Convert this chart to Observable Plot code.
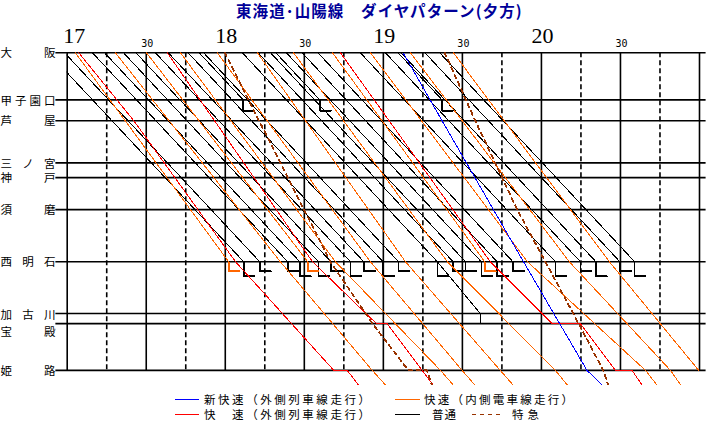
<!DOCTYPE html>
<html lang="ja">
<head>
<meta charset="utf-8">
<script src="https://cdn.jsdelivr.net/npm/d3@7"></script>
<script src="https://cdn.jsdelivr.net/npm/@observablehq/plot@0.6"></script>
<style>
html,body{margin:0;padding:0;background:#fff;}
#wrap{width:706px;height:425px;overflow:hidden;font-family:"Noto Sans CJK JP","Noto Sans",sans-serif;}
#title{height:20px;padding-left:236px;line-height:20px;font-size:15.5px;font-weight:bold;color:#000099;white-space:nowrap;letter-spacing:1.1px;}
#chart{height:365px;}
#legend{display:block;}
</style>
</head>
<body>
<div id="wrap">
<div id="title">東海道･山陽線　ダイヤパターン(夕方)</div>
<div id="chart"></div>
<svg id="legend" width="706" height="40"></svg>
</div>
<script>
// ---- stations (distance along the diagram, km-like units)
const stations  = ["大阪","甲子園口","芦屋","三ノ宮","神戸","須磨","西明石","加古川","宝殿","姫路"];
const stationKm = [0, 13.1, 18.9, 30.6, 34.7, 43.6, 58.1, 72.5, 75.3, 88.3];
const beyondName = "以遠";      // continuation west of 姫路 (cut by the picture edge)
const beyondKm = 92.5;

// ---- time axis (minutes after 17:00)
const hourTicks  = [0, 60, 120, 180];
const hourLabels = ["17", "18", "19", "20"];
const halfTicks  = [30, 90, 150, 210];
const halfLabels = ["30", "30", "30", "30"];
const gridSolid  = [0, 30, 60, 90, 120, 150, 180, 210, 240];
const gridDashed = [15, 45, 75, 105, 135, 165, 195, 225];

// ---- trains: "station time station time ... [end-mark]"  (time = minutes after 17:00)
// end marks: L / S = turn-back into siding at 西明石 (long / short), K = siding at 甲子園口, D = drop at 加古川
const futsu = [
  "大阪 -7.1 西明石 67.0 L",
  "大阪 -1.0 西明石 73.1 S",
  "大阪 9.6 西明石 83.7 S",
  "大阪 14.2 西明石 88.3 L",
  "大阪 21.4 西明石 95.4 L",
  "大阪 26.1 西明石 100.1 S",
  "大阪 33.5 西明石 107.5 L",
  "大阪 38.4 西明石 112.6 S",
  "大阪 45.9 西明石 119.9 L",
  "大阪 50.1 甲子園口 66.8 K",
  "大阪 51.8 西明石 125.8 S",
  "大阪 66.5 西明石 140.5 L",
  "大阪 72.5 西明石 146.5 S",
  "大阪 77.2 西明石 151.2 S",
  "大阪 79.2 甲子園口 95.9 K",
  "大阪 83.2 西明石 157.2 L",
  "大阪 89.2 西明石 163.2 L",
  "大阪 95.2 西明石 169.2 S",
  "大阪 111.3 西明石 185.3 L",
  "大阪 120.8 西明石 194.8 S",
  "大阪 125.6 甲子園口 142.3 K",
  "大阪 126.7 西明石 200.7 L",
  "大阪 135.8 西明石 209.8 S",
  "大阪 141.4 西明石 215.4 L",
  "西明石 140.5 加古川 156.8 D"
];
const kaisokuInner = [
  "大阪 3.1 西明石 61.3 S",
  "大阪 18.3 西明石 80.9 姫路 115.8 以遠 121.0",
  "大阪 30.1 西明石 91.3 S",
  "大阪 43.0 西明石 101.8 姫路 141.7 以遠 146.7",
  "大阪 57.0 西明石 115.1 姫路 149.9 以遠 154.9",
  "大阪 72.2 西明石 128.4 姫路 164.4 以遠 169.4",
  "大阪 85.9 西明石 144.3 姫路 185.3 以遠 190.0",
  "大阪 100.7 西明石 158.5 S",
  "大阪 115.1 西明石 174.7 姫路 219.5 以遠 224.0",
  "大阪 130.3 西明石 190.6 姫路 229.0 以遠 233.0",
  "大阪 146.6 西明石 205.8 姫路 239.7 以遠 244.0"
];
const kaisokuOuter = [
  "大阪 4.4 芦屋 25.3 西明石 63.9 姫路 101.2 姫路 106.3 以遠 110.7",
  "大阪 38.0 西明石 93.1 宝殿 117.4 宝殿 121.4 姫路 134.7 以遠 139.0",
  "大阪 103.7 西明石 160.6 宝殿 184.1 宝殿 194.8 姫路 208.1 姫路 214.4 以遠 218.3"
];
const shinKaisoku = [
  "大阪 127.5 芦屋 142.3 西明石 173.2 姫路 197.3 以遠 203.3"
];
const tokkyu = [
  "大阪 59.8 西明石 99.9 宝殿 115.9 姫路 129.5 姫路 136.6 以遠 138.5",
  "大阪 143.3 芦屋 154.9 須磨 170.8 西明石 181.5 加古川 192.1 姫路 203.5 以遠 205.4"
];

const typeColor = {
  "普通": "#000000",
  "快速内": "#ff6600",
  "快速外": "#ff0000",
  "新快速": "#0000ff",
  "特急": "#993300"
};

// ---- build tables
function kmOf(name) {
  return name === beyondName ? beyondKm : stationKm[stations.indexOf(name)];
}
function parse(list, type) {
  return list.map((s, i) => {
    const tok = s.trim().split(/\s+/);
    const pts = [];
    let end = null;
    for (let j = 0; j < tok.length; j += 2) {
      if (j === tok.length - 1) { end = tok[j]; break; }
      pts.push({station: tok[j], t: +tok[j + 1]});
    }
    return {id: type + i, type, pts, end};
  });
}
const trains = [
  ...parse(futsu, "普通"),
  ...parse(kaisokuInner, "快速内"),
  ...parse(kaisokuOuter, "快速外"),
  ...parse(shinKaisoku, "新快速"),
  ...parse(tokkyu, "特急")
];
const pathRows = trains.flatMap(tr => tr.pts.map(p => ({id: tr.id, type: tr.type, t: p.t, km: kmOf(p.station)})));

const dropOf = {L: 4.0, S: 2.6, K: 3.0};
const runMin = 4.2;
const noteRows = trains.filter(tr => tr.end).flatMap(tr => {
  const last = tr.pts[tr.pts.length - 1];
  const km = kmOf(last.station);
  if (tr.end === "D") {
    return [{id: tr.id, type: tr.type, t: last.t, km}, {id: tr.id, type: tr.type, t: last.t, km: kmOf("宝殿")}];
  }
  const d = dropOf[tr.end];
  return [
    {id: tr.id, type: tr.type, t: last.t, km},
    {id: tr.id, type: tr.type, t: last.t, km: km + d},
    {id: tr.id, type: tr.type, t: last.t + runMin, km: km + d}
  ];
});

const trainMarks = Object.keys(typeColor).flatMap(type => {
  const dashed = type === "特急";
  return [
    Plot.line(pathRows.filter(d => d.type === type), {
      x: "t", y: "km", z: "id", stroke: typeColor[type],
      strokeWidth: dashed ? 1.8 : 1, strokeDasharray: dashed ? "4,4" : null,
      clip: "frame"
    }),
    Plot.line(noteRows.filter(d => d.type === type), {
      x: "t", y: "km", z: "id", stroke: typeColor[type], strokeWidth: 1.6, clip: "frame"
    })
  ];
});

const lastKm = stationKm[stationKm.length - 1];
const chart = Plot.plot({
  width: 706,
  height: 365,
  marginLeft: 66.7,
  marginRight: 7,
  marginTop: 32.3,
  marginBottom: 0,
  x: {domain: [0, 240], range: [66.7, 699], axis: null},
  y: {domain: [0, beyondKm], range: [32.3, 365], axis: null},
  style: {background: "white", fontFamily: "'Noto Sans CJK JP', sans-serif", overflow: "hidden"},
  marks: [
    Plot.ruleY(stationKm, {x1: -4.3, x2: 242.5, stroke: "#000", strokeWidth: 1.6}),
    Plot.ruleX(gridSolid, {y1: 0, y2: lastKm, stroke: "#000", strokeWidth: 1.6}),
    Plot.ruleX(gridDashed, {y1: 0, y2: lastKm, stroke: "#000", strokeWidth: 1.6, strokeDasharray: "5,3"}),
    ...trainMarks,
    Plot.text(hourTicks.slice(0, 1), {x: d => d, text: (d, i) => hourLabels[i], frameAnchor: "top", lineAnchor: "bottom",
      dx: 7, dy: -10, fontSize: 22, fontFamily: "'Liberation Serif', serif", fill: "#000"}),
    Plot.text(hourTicks.slice(1), {x: d => d, text: (d, i) => hourLabels[i + 1], frameAnchor: "top", lineAnchor: "bottom",
      dx: 1, dy: -10, fontSize: 22, fontFamily: "'Liberation Serif', serif", fill: "#000"}),
    Plot.text(halfTicks, {x: d => d, text: (d, i) => halfLabels[i], frameAnchor: "top", lineAnchor: "bottom",
      dx: 1, dy: -6, fontSize: 10, fontFamily: "'DejaVu Sans Mono', monospace", fill: "#000"}),
    Plot.text(stations.filter(s => s !== "宝殿" && s !== "加古川"), {
      y: s => kmOf(s), text: s => s, frameAnchor: "left", textAnchor: "start", dx: -66.7, dy: 1,
      fontSize: 11.5, fill: "#000"}),
    Plot.text(["加古川"], {y: s => kmOf(s), text: s => s, frameAnchor: "left", textAnchor: "start", dx: -66.7, dy: 2,
      fontSize: 11.5, fill: "#000"}),
    Plot.text(["宝殿"], {y: s => kmOf(s), text: s => s, frameAnchor: "left", textAnchor: "start", dx: -66.7, dy: 9,
      fontSize: 11.5, fill: "#000"})
  ]
});
document.getElementById("chart").appendChild(chart);

// stretch station names across the label column
d3.select(chart).selectAll("text").each(function () {
  const t = this.textContent;
  if (stations.includes(t)) {
    d3.select(this).attr("textLength", 55).attr("lengthAdjust", "spacing");
  }
});
d3.select(chart).selectAll("g[aria-label=line] path").attr("shape-rendering", "crispEdges");

// ---- legend
const legendItems = [
  {type: "新快速", label: "新快速（外側列車線走行）", x: 175, row: 0, w: 24, tx: 204, tl: 166},
  {type: "快速内", label: "快速（内側電車線走行）", x: 395, row: 0, w: 25, tx: 424, tl: 149},
  {type: "快速外", label: "快　速（外側列車線走行）", x: 175, row: 1, w: 24, tx: 204, tl: 166},
  {type: "普通", label: "普通", x: 395, row: 1, w: 25, tx: 432, tl: 24},
  {type: "特急", label: "特急", x: 472, row: 1, w: 28, tx: 512, tl: 27}
];
const lg = d3.select("#legend");
legendItems.forEach(it => {
  const y = it.row === 0 ? 14.3 : 29.3;
  lg.append("line").attr("x1", it.x).attr("x2", it.x + it.w).attr("y1", y).attr("y2", y)
    .attr("stroke", typeColor[it.type]).attr("stroke-width", it.type === "特急" ? 1.6 : 1.2)
    .attr("stroke-dasharray", it.type === "特急" ? "4,4" : null)
    .attr("shape-rendering", "crispEdges");
  lg.append("text").attr("x", it.tx).attr("y", y + 4.2).text(it.label)
    .attr("font-size", 11.5).attr("font-family", "'Noto Sans CJK JP', sans-serif")
    .attr("textLength", it.tl).attr("lengthAdjust", "spacing").attr("fill", "#000");
});
</script>
</body>
</html>
